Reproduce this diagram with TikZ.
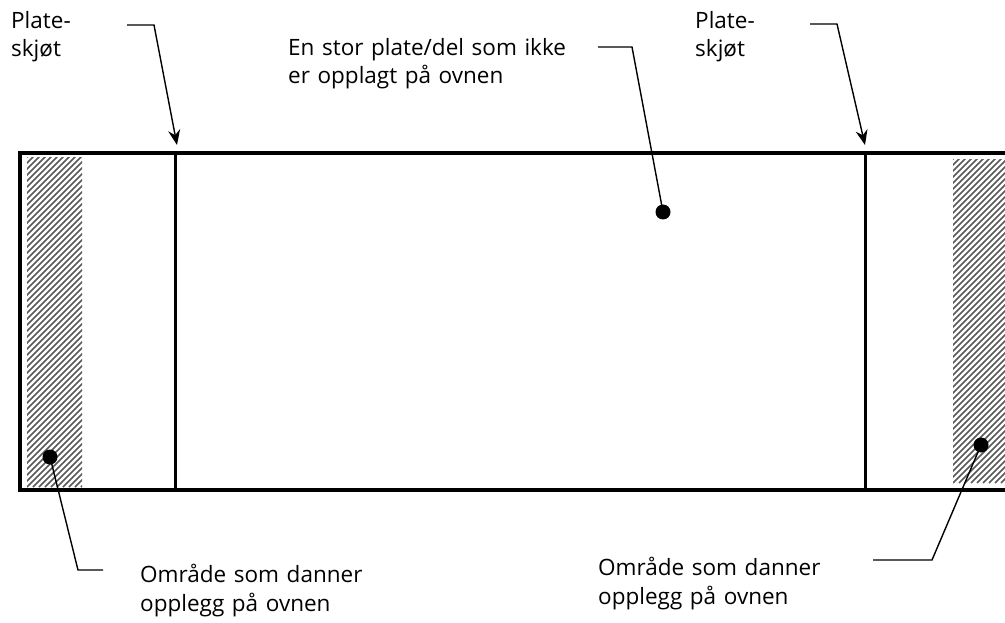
\documentclass[tikz,border=0pt]{standalone}
\usepackage{fontspec}
\setmainfont{Open Sans}[WordSpace=1.3]
\usetikzlibrary{arrows.meta}
\tikzset{
  lbl/.style={inner sep=0pt, anchor=base west, align=left, font=\fontsize{22.5}{28.5}\selectfont},
  frame/.style={line width=3.5pt},
  divider/.style={line width=3pt},
  leader/.style={line width=1.4pt},
  arrowleader/.style={line width=1.4pt, -{Stealth[length=15pt,width=12pt,inset=5pt]}},
  dot/.style={circle, fill=black, inner sep=0pt, minimum size=15pt},
  hatchline/.style={line width=1.6pt, draw=black!65}
}
\begin{document}
\begin{tikzpicture}[x=1pt,y=-1pt]
\useasboundingbox (0,0) rectangle (1005,623);
\clip (0,0) rectangle (1005,623);
% hatched areas
\begin{scope}
  \clip (27,158) rectangle (82,487);
  \foreach \i in {-360,-354,...,120} {
    \draw[hatchline] (27+\i,487) -- (27+\i+340,147);
  }
\end{scope}
\begin{scope}
  \clip (953,160) rectangle (1005,483);
  \foreach \i in {-360,-354,...,120} {
    \draw[hatchline] (953+\i,483) -- (953+\i+340,143);
  }
\end{scope}
% frame
\draw[frame] (1020,153) -- (20,153) -- (20,490) -- (1020,490);
\draw[divider] (175,153) -- (175,490);
\draw[divider] (865,153) -- (865,490);
% texts (anchor = baseline of last line)
\node[lbl] (pl) at (11,57) {Plate-\\skjøt};
\node[lbl] (pr) at (695,57) {Plate-\\skjøt};
\node[lbl] (mid) at (288,84) {En stor plate/del som ikke\\er opplagt på ovnen};
\node[lbl] (bl) at (140,611) {Område som danner\\opplegg på ovnen};
\node[lbl] (br) at (598,604) {Område som danner\\opplegg på ovnen};
% dots
\node[dot] (dm) at (663,212) {};
\node[dot] (dl) at (50,457) {};
\node[dot] (dr) at (981,445) {};
% targets and bends
\coordinate (tl) at (177,145);
\coordinate (tr) at (865,145);
\coordinate (al0) at (127,25); \coordinate (al1) at (154,25);
\coordinate (ar0) at (810,24); \coordinate (ar1) at (837,24);
\coordinate (am0) at (598,47); \coordinate (am1) at (632,47);
\coordinate (bl0) at (103,570); \coordinate (bl1) at (78,570);
\coordinate (br0) at (873,560); \coordinate (br1) at (932,560);
% leaders
\draw[arrowleader] (al0) -- (al1) -- (tl);
\draw[arrowleader] (ar0) -- (ar1) -- (tr);
\draw[leader] (am0) -- (am1) -- (dm.center);
\draw[leader] (bl0) -- (bl1) -- (dl.center);
\draw[leader] (br0) -- (br1) -- (dr.center);
\end{tikzpicture}
\end{document}
